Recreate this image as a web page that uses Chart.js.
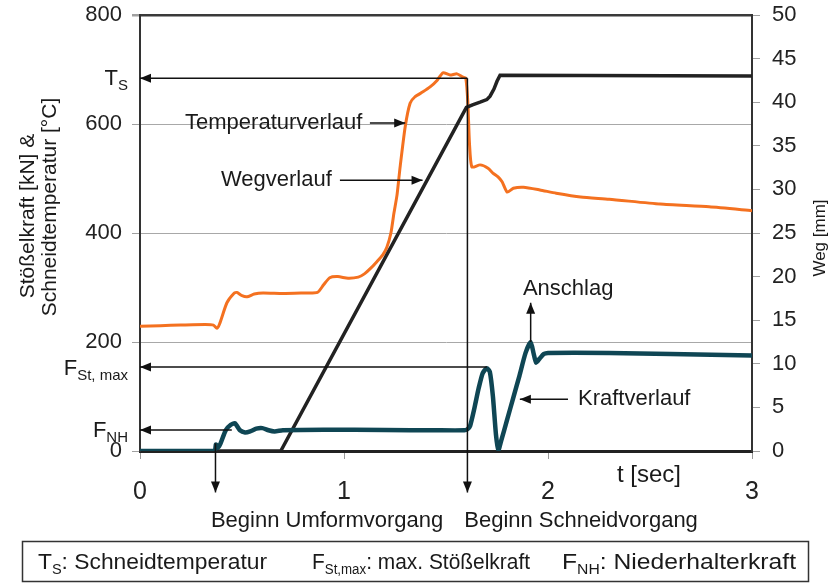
<!DOCTYPE html>
<html lang="de">
<head>
<meta charset="utf-8">
<title>Stößelkraft, Schneidtemperatur und Weg</title>
<script src="https://cdn.jsdelivr.net/npm/chart.js@4.4.1/dist/chart.umd.min.js"></script>
<style>
  html, body { margin: 0; padding: 0; background: #fff; }
</style>
</head>
<body>
<canvas id="verlauf" width="829" height="585"></canvas>
<script>
const tempZeit = [0, 0.1, 0.2, 0.32, 0.36, 0.377, 0.39, 0.426, 0.46, 0.475, 0.5, 0.525, 0.56, 0.603, 0.7,
  0.8, 0.87, 0.9, 0.93, 0.97, 1.02, 1.07, 1.1, 1.13, 1.16, 1.19, 1.21, 1.23, 1.245, 1.26,
  1.275, 1.3, 1.324, 1.348, 1.387, 1.422, 1.456, 1.485, 1.52, 1.554, 1.583, 1.597, 1.607, 1.615, 1.627,
  1.667, 1.706, 1.73, 1.755, 1.775, 1.8, 1.83, 1.88, 1.96, 2.04, 2.16, 2.3, 2.55, 2.79, 3.0];
const tempWert = [229, 230, 231, 232, 231, 225, 233, 272, 289, 291, 285, 283, 288, 290, 289,
  290, 291, 305, 318, 320, 317, 319, 325, 335, 347, 360, 374, 400, 437, 470,
  521, 595, 638, 650, 659, 668, 680, 694, 690, 692, 686, 684, 640, 565, 521,
  525, 519, 510, 503, 494, 475, 482, 484, 479, 473, 466, 462, 453, 448, 441];

const wegZeit = [0, 0.69, 1.6, 1.63, 1.667, 1.7, 1.716, 1.735, 1.75, 1.765, 3.0];
const wegWert = [0, 0, 39.4, 39.7, 40.0, 40.3, 40.7, 41.5, 42.4, 43.1, 43.0];

const kraftZeit = [0, 0.365, 0.372, 0.382, 0.395, 0.42, 0.445, 0.465, 0.49, 0.515,
  0.54, 0.57, 0.6, 0.63, 0.66, 0.7, 0.9, 1.2, 1.45, 1.59,
  1.605, 1.618, 1.64, 1.66, 1.68, 1.70, 1.715, 1.73, 1.745, 1.757,
  1.77, 1.80, 1.83, 1.86, 1.89, 1.915, 1.93, 1.942, 1.96, 1.98,
  2.0, 2.3, 2.6, 3.0];
const kraftWert = [0, 0, 12, 6, 14, 38, 48, 51, 38, 34,
  36, 41, 42, 38, 36, 38, 39, 38.5, 38, 38,
  40, 46, 80, 115, 143, 152, 145, 100, 30, 2,
  18, 58, 98, 138, 180, 200, 178, 162, 170, 178,
  180, 180, 178, 175];

// markante Werte
const schneidTemp = 684;   // T_S
const kraftMax = 154;      // F_St,max
const kraftNH = 38.5;      // F_NH
const beginnUmform = 0.37;
const beginnSchneid = 1.605;

const schrift = '"Liberation Sans", Arial, Helvetica, sans-serif';

function punkte(xs, ys) {
  return xs.map((x, i) => ({ x: x, y: ys[i] }));
}

function spitze(ctx, x1, y1, x2, y2) {
  const a = Math.atan2(y2 - y1, x2 - x1);
  const l = 11, b = 4.5;
  ctx.beginPath();
  ctx.moveTo(x2, y2);
  ctx.lineTo(x2 - l * Math.cos(a) + b * Math.sin(a), y2 - l * Math.sin(a) - b * Math.cos(a));
  ctx.lineTo(x2 - l * Math.cos(a) - b * Math.sin(a), y2 - l * Math.sin(a) + b * Math.cos(a));
  ctx.closePath();
  ctx.fill();
}

// Text mit tiefgestellten Teilen, y = Grundlinie; breiteSoll streckt auf feste Breite
function indexText(ctx, teile, x, y, ausrichtung, gross, klein, breiteSoll) {
  let breite = 0;
  teile.forEach(([t, tief]) => {
    ctx.font = (tief ? klein : gross) + 'px ' + schrift;
    breite += ctx.measureText(t).width;
  });
  const f = breiteSoll ? breiteSoll / breite : 1;
  ctx.save();
  ctx.translate(ausrichtung === 'right' ? x - breite * f : x, y);
  ctx.scale(f, 1);
  ctx.textAlign = 'left';
  ctx.textBaseline = 'alphabetic';
  let cx = 0;
  teile.forEach(([t, tief]) => {
    ctx.font = (tief ? klein : gross) + 'px ' + schrift;
    ctx.fillText(t, cx, tief ? 5 : 0);
    cx += ctx.measureText(t).width;
  });
  ctx.restore();
}

const beschriftung = {
  id: 'beschriftung',
  afterDatasetsDraw(chart) {
    const { ctx, chartArea } = chart;
    const sx = chart.scales.x, sy = chart.scales.y;
    const px = v => sx.getPixelForValue(v);
    const py = v => sy.getPixelForValue(v);

    ctx.save();
    ctx.strokeStyle = '#111';
    ctx.fillStyle = '#111';
    ctx.lineWidth = 1.5;

    const pfeile = [
      [beginnSchneid, schneidTemp, 0, schneidTemp],
      [beginnSchneid, schneidTemp, beginnSchneid, -76],
      [beginnUmform, 14, beginnUmform, -76],
      [1.70, kraftMax, 0, kraftMax],
      [0.45, kraftNH, 0, kraftNH],
      [1.915, 200, 1.915, 272],
      [2.098, 95, 1.862, 95],
      [1.127, 602, 1.30, 602],
      [0.98, 497, 1.385, 497]
    ];
    pfeile.forEach(([x1, y1, x2, y2]) => {
      const a = px(x1), b = py(y1), c = px(x2), d = py(y2);
      ctx.beginPath();
      ctx.moveTo(a, b);
      ctx.lineTo(c, d);
      ctx.stroke();
      spitze(ctx, a, b, c, d);
    });

    ctx.fillStyle = '#1a1a1a';
    ctx.textBaseline = 'middle';
    ctx.font = '22px ' + schrift;
    ctx.textAlign = 'right';
    ctx.fillText('Temperaturverlauf', px(1.09), py(602));
    ctx.fillText('Wegverlauf', px(0.94), py(497));
    ctx.textAlign = 'left';
    ctx.fillText('Anschlag', px(1.877), py(297));
    ctx.fillText('Kraftverlauf', px(2.147), py(95));
    ctx.font = '24px ' + schrift;
    ctx.fillText('t [sec]', px(2.338), py(-44));
    ctx.font = '22px ' + schrift;
    ctx.textAlign = 'center';
    ctx.fillText('Beginn Umformvorgang', px(0.917), py(-128));
    ctx.fillText('Beginn Schneidvorgang', px(2.162), py(-128));

    // Kennwerte links der Achse
    const lx = chartArea.left - 12;
    indexText(ctx, [['T', false], ['S', true]], lx, py(schneidTemp) + 7, 'right', 22, 15);
    indexText(ctx, [['F', false], ['St, max', true]], lx, py(kraftMax) + 8, 'right', 22, 15);
    indexText(ctx, [['F', false], ['NH', true]], lx, py(kraftNH) + 7, 'right', 22, 15);

    // Achsentitel
    ctx.textAlign = 'center';
    ctx.textBaseline = 'middle';
    ctx.save();
    ctx.translate(28, 216);
    ctx.rotate(-Math.PI / 2);
    ctx.font = '21px ' + schrift;
    ctx.fillText('Stößelkraft [kN] &', 0, 0);
    ctx.restore();
    ctx.save();
    ctx.translate(50, 207);
    ctx.rotate(-Math.PI / 2);
    ctx.font = '21px ' + schrift;
    ctx.fillText('Schneidtemperatur [°C]', 0, 0);
    ctx.restore();
    ctx.save();
    ctx.translate(820, 238);
    ctx.rotate(-Math.PI / 2);
    ctx.font = '17px ' + schrift;
    ctx.fillText('Weg [mm]', 0, 0);
    ctx.restore();

    // Legendenkasten
    ctx.strokeStyle = '#333';
    ctx.lineWidth = 1.5;
    ctx.strokeRect(22.5, 541.5, 786, 40);
    ctx.fillStyle = '#1a1a1a';
    indexText(ctx, [['T', false], ['S', true], [': Schneidtemperatur', false]], 38, 569, 'left', 22, 14, 229);
    indexText(ctx, [['F', false], ['St,max', true], [': max. Stößelkraft', false]], 312, 569, 'left', 22, 14, 218);
    indexText(ctx, [['F', false], ['NH', true], [': Niederhalterkraft', false]], 562, 569, 'left', 22, 14, 234);
    ctx.restore();
  }
};

// Randabstände der y-Achsen nicht auf die Zeichenfläche aufschlagen
function achsenBreite(b) {
  return s => { s.width = b; s.paddingTop = 0; s.paddingBottom = 0; };
}

new Chart(document.getElementById('verlauf'), {
  type: 'line',
  data: {
    datasets: [
      {
        label: 'Kraftverlauf',
        data: punkte(kraftZeit, kraftWert),
        yAxisID: 'y',
        borderColor: '#0f4654',
        borderWidth: 4.5,
        pointRadius: 0,
        tension: 0.2
      },
      {
        label: 'Wegverlauf',
        data: punkte(wegZeit, wegWert),
        yAxisID: 'y2',
        borderColor: '#222222',
        borderWidth: 3.5,
        pointRadius: 0,
        tension: 0
      },
      {
        label: 'Temperaturverlauf',
        data: punkte(tempZeit, tempWert),
        yAxisID: 'y',
        borderColor: '#f47120',
        borderWidth: 3,
        pointRadius: 0,
        tension: 0.2
      }
    ]
  },
  options: {
    responsive: false,
    animation: false,
    events: [],
    layout: { padding: { top: 15 } },
    plugins: { legend: { display: false }, tooltip: { enabled: false } },
    scales: {
      x: {
        type: 'linear',
        min: 0, max: 3,
        afterFit: s => { s.height = 134; },
        ticks: { stepSize: 1, color: '#222', padding: 18, font: { family: schrift, size: 25 } },
        grid: { drawOnChartArea: false, tickLength: 8, color: '#999' },
        border: { color: '#222', width: 3 }
      },
      y: {
        position: 'left',
        min: 0, max: 800,
        afterFit: achsenBreite(140),
        ticks: { stepSize: 200, color: '#222', padding: 10, font: { family: schrift, size: 22 } },
        grid: {
          tickLength: 8,
          tickColor: '#a0a0a0',
          color: c => c.tick && c.tick.value === 800 ? '#3a3a3a' : (c.tick && c.tick.value === 0 ? 'rgba(0,0,0,0)' : '#a8a8a8'),
          lineWidth: c => c.tick && c.tick.value === 800 ? 2.5 : 1
        },
        border: { color: '#333', width: 2 }
      },
      y2: {
        position: 'right',
        min: 0, max: 50,
        afterFit: achsenBreite(77),
        ticks: { stepSize: 5, color: '#222', padding: 12, font: { family: schrift, size: 22 } },
        grid: { drawOnChartArea: false, tickLength: 8, color: '#a0a0a0' },
        border: { color: '#333', width: 2 }
      }
    }
  },
  plugins: [beschriftung]
});
</script>
</body>
</html>
